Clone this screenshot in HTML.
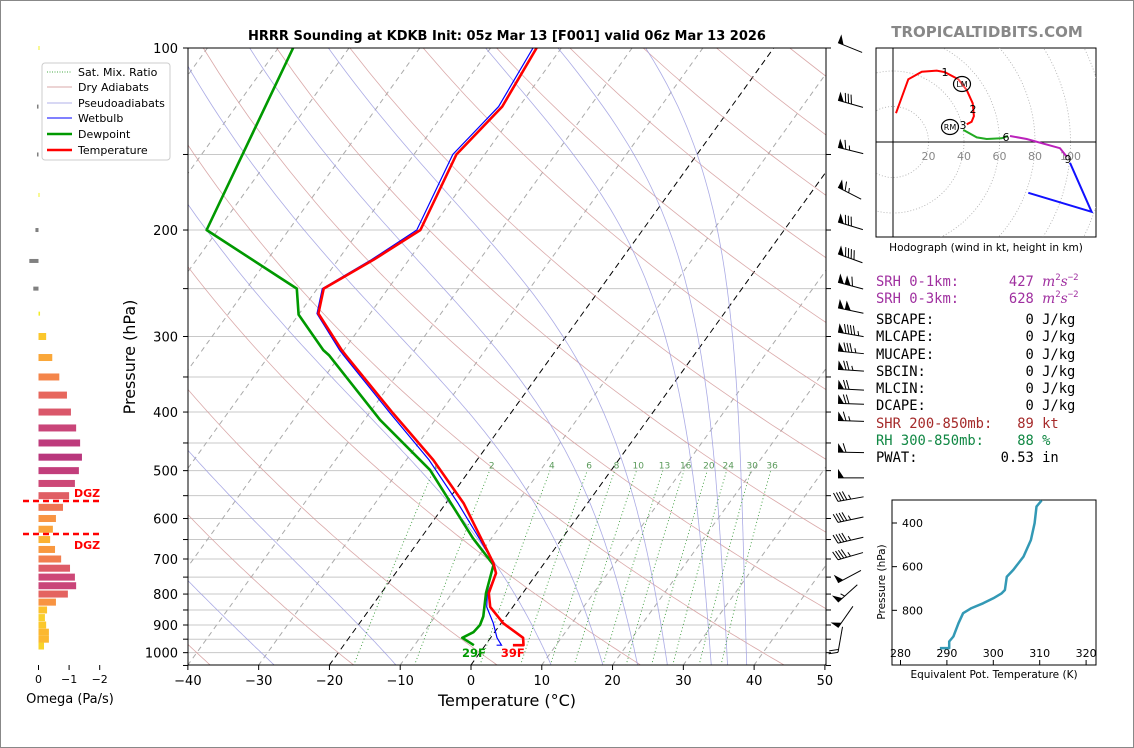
<!DOCTYPE html>
<html><head><meta charset="utf-8"><style>
html,body{margin:0;padding:0;background:#fff;}
svg{display:block;font-family:"DejaVu Sans","Liberation Sans",sans-serif;}
.mono{font-family:"DejaVu Sans Mono","Liberation Mono",monospace;}
</style></head><body>
<svg id="chart" xmlns="http://www.w3.org/2000/svg" width="1134" height="748" viewBox="0 0 1134 748">
<rect x="0.5" y="0.5" width="1133" height="747" fill="#fff" stroke="#888"/>
<defs><clipPath id="mainclip"><rect x="188" y="48" width="638" height="617"/></clipPath>
<clipPath id="hodoclip"><rect x="876" y="48" width="220" height="189"/></clipPath></defs>
<g id="bg" clip-path="url(#mainclip)"></g>
<g id="prof" clip-path="url(#mainclip)"></g>
<g id="axes"></g>
<g id="barbs"></g>
<g id="omega"></g>
<g id="hodo"></g>
<g id="thetae"></g>

<text x="507" y="40" text-anchor="middle" font-size="13" font-weight="bold">HRRR Sounding at KDKB Init: 05z Mar 13 [F001] valid 06z Mar 13 2026</text>
<text x="987" y="37" text-anchor="middle" font-size="15" font-weight="bold" fill="#888">TROPICALTIDBITS.COM</text>
<text x="507" y="706" text-anchor="middle" font-size="16">Temperature (°C)</text>
<text transform="translate(135,357) rotate(-90)" text-anchor="middle" font-size="16">Pressure (hPa)</text>
<text x="70" y="703" text-anchor="middle" font-size="13">Omega (Pa/s)</text>
<text x="986" y="251" text-anchor="middle" font-size="10.5">Hodograph (wind in kt, height in km)</text>

<g class="mono" font-size="13.8">
<text x="876" y="286" fill="#a030a0" xml:space="preserve">SRH 0-1km:      427 <tspan font-style="italic" font-family="DejaVu Serif, serif">m</tspan><tspan font-size="9" dy="-6">2</tspan><tspan font-style="italic" dy="6" font-family="DejaVu Serif, serif">s</tspan><tspan font-size="9" dy="-6">−2</tspan></text>
<text x="876" y="303" fill="#a030a0" xml:space="preserve">SRH 0-3km:      628 <tspan font-style="italic" font-family="DejaVu Serif, serif">m</tspan><tspan font-size="9" dy="-6">2</tspan><tspan font-style="italic" dy="6" font-family="DejaVu Serif, serif">s</tspan><tspan font-size="9" dy="-6">−2</tspan></text>
<text x="876" y="324" xml:space="preserve">SBCAPE:           0 J/kg</text>
<text x="876" y="341" xml:space="preserve">MLCAPE:           0 J/kg</text>
<text x="876" y="359" xml:space="preserve">MUCAPE:           0 J/kg</text>
<text x="876" y="376" xml:space="preserve">SBCIN:            0 J/kg</text>
<text x="876" y="393" xml:space="preserve">MLCIN:            0 J/kg</text>
<text x="876" y="410" xml:space="preserve">DCAPE:            0 J/kg</text>
<text x="876" y="428" fill="#a52a2a" xml:space="preserve">SHR 200-850mb:   89 kt</text>
<text x="876" y="445" fill="#118844" xml:space="preserve">RH 300-850mb:    88 %</text>
<text x="876" y="462" xml:space="preserve">PWAT:          0.53 in</text>
</g>

<g>
<rect x="42" y="63" width="128" height="97" rx="3" fill="#fff" stroke="#ccc"/>
<line x1="47" y1="72" x2="72" y2="72" stroke="#4a4" stroke-dasharray="1,1.5"/>
<text x="78" y="76" font-size="11">Sat. Mix. Ratio</text>
<line x1="47" y1="87" x2="72" y2="87" stroke="#d8a8a8"/>
<text x="78" y="91" font-size="11">Dry Adiabats</text>
<line x1="47" y1="103" x2="72" y2="103" stroke="#b0b0e8"/>
<text x="78" y="107" font-size="11">Pseudoadiabats</text>
<line x1="47" y1="118" x2="72" y2="118" stroke="#00f"/>
<text x="78" y="122" font-size="11">Wetbulb</text>
<line x1="47" y1="134" x2="72" y2="134" stroke="#090" stroke-width="2.5"/>
<text x="78" y="138" font-size="11">Dewpoint</text>
<line x1="47" y1="150" x2="72" y2="150" stroke="#f00" stroke-width="2.5"/>
<text x="78" y="154" font-size="11">Temperature</text>
</g>
</svg>
<script>
// ---- data ----
var tempP = [100,125,150,200,224,250,275,316,324,402,480,566,711,739,797,840,894,945,972,972];
var tempT = [-53.5,-52.4,-54.0,-51.4,-55.0,-59.1,-57.3,-50.3,-48.9,-36.6,-26.2,-17.5,-7.2,-5.8,-4.8,-3.2,0.3,4.6,5.4,3.9];
var dewP = [100,200,250,276,316,322,412,499,647,716,797,871,900,925,945,972];
var dewT = [-87.9,-81.6,-62.9,-60.0,-52.9,-51.6,-37.8,-25.6,-12.6,-7.0,-5.2,-3.2,-2.8,-3.0,-4.0,-1.6];
var wbP = [100,125,150,200,224,250,275,316,324,402,480,566,650,711,739,797,840,894,945,972,972];
var wbT = [-54.0,-52.9,-54.5,-51.9,-55.3,-59.3,-57.5,-50.6,-49.2,-37.0,-26.8,-18.3,-11.5,-7.2,-5.8,-5.0,-3.7,-1.1,0.9,2.3,1.6];
var barbP = [98,122,146,170,194,219,244,269,295,317,340,366,387,413,466,514,562,609,659,702,766,825,909,999];
var barbSpd = [50,80,65,65,80,90,110,100,95,85,75,70,70,65,60,50,45,45,45,45,50,55,50,20];
var barbDir = [292,286,284,297,287,290,285,282,280,276,274,273,272,272,271,270,260,258,257,254,242,228,215,190];
var omegaP = [100,125,150,175,200,225,250,275,300,325,350,375,400,425,450,475,500,525,550,575,600,625,650,675,700,725,750,775,800,825,850,875,900,925,950,975];
var omegaV = [-0.02,0.05,0.05,-0.03,0.1,0.3,0.17,-0.05,-0.25,-0.45,-0.68,-0.93,-1.06,-1.23,-1.36,-1.42,-1.32,-1.19,-1.0,-0.8,-0.57,-0.47,-0.38,-0.54,-0.74,-1.03,-1.19,-1.23,-0.96,-0.57,-0.28,-0.21,-0.25,-0.34,-0.34,-0.18];
var hodoRedU = [1.7,8.6,16.2,24.6,29.3,36.8,41.5,44.9,45.6,44.3,41.5];
var hodoRedV = [16.2,35.3,39.6,40.2,39.3,35.3,29.3,21.8,14.6,11.4,10.0];
var hodoGreenU = [39.6,47.2,52.8,61.2,64.8];
var hodoGreenV = [6.8,2.6,1.7,2.1,3.4];
var hodoMagU = [65.9,75.3,94.1,97.9];
var hodoMagV = [3.4,1.7,-3.5,-8.3];
var hodoBlueU = [99.7,111.9,76.2];
var hodoBlueV = [-11.7,-39.3,-28.6];
var thetaeP = [297,325,401,478,554,615,646,707,722,745,768,790,813,859,920,943,973,973];
var thetaeV = [310.4,309.3,308.9,308.1,306.5,304.3,302.9,302.5,301.8,300.0,297.8,295.3,293.5,292.5,291.4,290.5,290.5,288.5];
var xTicks = [-40,-30,-20,-10,0,10,20,30,40,50];
var yTickLabels = [100,200,300,400,500,600,700,800,900,1000];
var mixRatios = [1,2,4,6,8,10,13,16,20,24,30,36];
var moistStart = [-105,-90,-75,-60,-45,-27.7,-10.5,11.4,18.7,23.6,27.8,34,36.3,39];

// ---- helpers ----
var NS = "http://www.w3.org/2000/svg";
function mk(parent, tag, attrs){var e=document.createElementNS(NS,tag);for(var k in attrs)e.setAttribute(k,attrs[k]);parent.appendChild(e);return e;}
function Y(p){return 48+262.6*Math.log(p/100);}
function X(T,p){return 471+7.078*T+0.72*(665-Y(p));}
function pts(P,T){var s=[];for(var i=0;i<P.length;i++)s.push(X(T[i],P[i]).toFixed(1)+","+Y(P[i]).toFixed(1));return s.join(" ");}
var bg=document.getElementById('bg'), prof=document.getElementById('prof'), ax=document.getElementById('axes');

for(var p=100;p<=1050;p+=50){
  var gl=mk(bg,'line',{x1:188,x2:826,y1:Y(p),y2:Y(p),stroke:'#c8c8c8','stroke-width':1});
  
  
}
for(var t=-130;t<=50;t+=10){
  var blk=(t==0||t==-20);
  var il=mk(bg,'line',{x1:X(t,1050),y1:Y(1050),x2:X(t,100),y2:Y(100),stroke:blk?'#000':'#aaa','stroke-width':1,'stroke-dasharray':blk?'6,4':'5,4'});
  
  
}
for(var th=-40;th<=220;th+=20){
  var s=[];for(var pp=1050;pp>=100;pp-=10){var T=(th+273.15)*Math.pow(pp/1000,0.2857)-273.15;s.push(X(T,pp).toFixed(1)+","+Y(pp).toFixed(1));}
  var dl=mk(bg,'polyline',{points:s.join(" "),fill:'none',stroke:'#d49a9a','stroke-width':0.8,'stroke-opacity':0.85});
  
  
}
function esat(Tc){return 6.112*Math.exp(17.67*Tc/(Tc+243.5));}
moistStart.forEach(function(t0){
  var T=t0+273.15,pp=1050,s=[];
  while(pp>=100){
    s.push(X(T-273.15,pp).toFixed(1)+","+Y(pp).toFixed(1));
    var e=esat(T-273.15),rs=0.622*e/(pp-e);
    var dTdp=(287*T+2.501e6*rs)/(pp*(1005+2.501e6*2.501e6*rs*0.622/(287*T*T)));
    T-=dTdp*5;pp-=5;
  }
  var ml=mk(bg,'polyline',{points:s.join(" "),fill:'none',stroke:'#9c9ce0','stroke-width':0.8,'stroke-opacity':0.85});
  
  
});
mixRatios.forEach(function(w){
  var s=[];
  for(var pp=1050;pp>=500;pp-=10){var e=w*pp/(622+w),l=Math.log(e/6.112),Td=243.5*l/(17.67-l);s.push(X(Td,pp).toFixed(1)+","+Y(pp).toFixed(1));}
  var wl=mk(bg,'polyline',{points:s.join(" "),fill:'none',stroke:'#3a9a3a','stroke-width':0.9,'stroke-dasharray':'1,2.5'});
  
  
  var e2=w*490/(622+w),l2=Math.log(e2/6.112),Td2=243.5*l2/(17.67-l2);
  var wt=mk(bg,'text',{x:X(Td2,490),y:Y(490)+3,'font-size':9,fill:'#5a9a5a','text-anchor':'middle'});
  wt.textContent=w;
  
  
});
var wb=mk(prof,'polyline',{points:pts(wbP,wbT),fill:'none',stroke:'#00f','stroke-width':1.2});


var dw=mk(prof,'polyline',{points:pts(dewP,dewT),fill:'none',stroke:'#090','stroke-width':2.6,'stroke-linejoin':'round'});


var tp=mk(prof,'polyline',{points:pts(tempP,tempT),fill:'none',stroke:'#f00','stroke-width':2.6,'stroke-linejoin':'round'});


var sd=mk(ax,'text',{x:X(dewT[dewT.length-1],972),y:657,'font-size':11.5,'font-weight':'bold',fill:'#090','text-anchor':'middle'});
sd.textContent='29F';


var st=mk(ax,'text',{x:X(tempT[tempT.length-1],972),y:657,'font-size':11.5,'font-weight':'bold',fill:'#f00','text-anchor':'middle'});
st.textContent='39F';



var fr=mk(ax,'rect',{x:188,y:48,width:638,height:617,fill:'none',stroke:'#000','stroke-width':1});


xTicks.forEach(function(t){
  var x=471+7.078*t;
  var tk=mk(ax,'line',{x1:x,x2:x,y1:665,y2:670,stroke:'#000'});
  
  
  var tl=mk(ax,'text',{x:x,y:685,'font-size':13,'text-anchor':'middle'});
  tl.textContent=(t<0?'−'+(-t):t);
  
  
});
for(var p2=100;p2<=1050;p2+=50){
  var l1=mk(ax,'line',{x1:183,x2:188,y1:Y(p2),y2:Y(p2),stroke:'#000'});
  
  
  var l2=mk(ax,'line',{x1:826,x2:831,y1:Y(p2),y2:Y(p2),stroke:'#000'});
  
  
}
yTickLabels.forEach(function(p){
  var yl=mk(ax,'text',{x:178,y:Y(p)+5,'font-size':13,'text-anchor':'end'});
  yl.textContent=p;
  
  
});

var bgp=document.getElementById('barbs');
for(var i=0;i<barbP.length;i++){
  var d=barbDir[i]*Math.PI/180,vx=Math.sin(d),vy=-Math.cos(d);
  var fx=838,fy=Y(barbP[i]),L=26;
  var tx=fx-L*vx,ty=fy-L*vy;
  var nx=-vy,ny=vx; if(ny>0){nx=-nx;ny=-ny;}
  var g=mk(bgp,'g',{});
  
  
  mk(g,'line',{x1:fx,y1:fy,x2:tx,y2:ty,stroke:'#000','stroke-width':1});
  var spd=Math.round(barbSpd[i]/5)*5,pos=0;
  while(spd>=50){
    var bx=fx+(-vx)*pos,by=fy+(-vy)*pos,cx=fx+(-vx)*(pos+6),cy=fy+(-vy)*(pos+6);
    mk(g,'polygon',{points:bx+','+by+' '+(bx+nx*9)+','+(by+ny*9)+' '+cx+','+cy,fill:'#000'});
    pos+=7;spd-=50;
  }
  if(pos>0)pos+=1;
  while(spd>=10){
    var bx2=fx+(-vx)*pos,by2=fy+(-vy)*pos;
    mk(g,'line',{x1:bx2,y1:by2,x2:bx2+nx*9+vx*3,y2:by2+ny*9+vy*3,stroke:'#000','stroke-width':1});
    pos+=3;spd-=10;
  }
  if(spd>=5){
    var bx3=fx+(-vx)*(pos+1),by3=fy+(-vy)*(pos+1);
    mk(g,'line',{x1:bx3,y1:by3,x2:bx3+nx*4.5+vx*1.5,y2:by3+ny*4.5+vy*1.5,stroke:'#000','stroke-width':1});
  }
}

var om=document.getElementById('omega');
function omColor(v){
  if(v>0)return '#808080';
  var stops=[[0,[240,245,40]],[0.3,[253,190,45]],[0.6,[247,143,68]],[0.9,[234,106,90]],[1.2,[204,71,120]],[1.5,[178,49,127]]];
  var a=-v;
  for(var k=1;k<stops.length;k++){
    if(a<=stops[k][0]||k==stops.length-1){
      var s0=stops[k-1],s1=stops[k],f=Math.min(1,(a-s0[0])/(s1[0]-s0[0]));
      return 'rgb('+[0,1,2].map(function(j){return Math.round(s0[1][j]+(s1[1][j]-s0[1][j])*f);}).join(',')+')';
    }
  }
}
var OX0=38.5,OXS=30.6;
for(var i2=0;i2<omegaP.length;i2++){
  var v=omegaV[i2],h=omegaP[i2]>=300?7:4,x0=OX0,x1=OX0-v*OXS;
  var r=mk(om,'rect',{x:Math.min(x0,x1),y:Y(omegaP[i2])-h/2,width:Math.max(1,Math.abs(x1-x0)),height:h,fill:omColor(v)});
  
  
}
[0,-1,-2].forEach(function(v){
  var x=OX0-v*OXS;
  var t1=mk(om,'line',{x1:x,x2:x,y1:665,y2:670,stroke:'#000'});
  
  
  var t2=mk(om,'text',{x:x,y:683,'font-size':11,'text-anchor':'middle'});
  t2.textContent=(v<0?'−'+(-v):v);
  
  
});
[501,534].forEach(function(y,k){
  var dl=mk(om,'line',{x1:23,x2:99,y1:y,y2:y,stroke:'#f00','stroke-width':2.5,'stroke-dasharray':'6,4'});
  
  
  var dt=mk(om,'text',{x:74,y:k==0?497:549,'font-size':11,'font-weight':'bold',fill:'#f00'});
  dt.textContent='DGZ';
  
  
});

var ho=document.getElementById('hodo');
var HX=893,HY=142,HS=1.775;
var hbox=mk(ho,'rect',{x:876,y:48,width:220,height:189,fill:'#fff',stroke:'#000','stroke-width':1});


var hc=mk(ho,'g',{'clip-path':'url(#hodoclip)'});
for(var rr=20;rr<=140;rr+=20){
  var c=mk(hc,'circle',{cx:HX,cy:HY,r:rr*HS,fill:'none',stroke:'#aaa','stroke-width':0.8,'stroke-dasharray':'1,2'});
  
  
}
mk(hc,'line',{x1:HX,x2:HX,y1:48,y2:237,stroke:'#000','stroke-width':1});
mk(hc,'line',{x1:876,x2:1096,y1:HY,y2:HY,stroke:'#000','stroke-width':1});
[20,40,60,80,100].forEach(function(k){
  var t=mk(hc,'text',{x:HX+k*HS,y:HY+18,'font-size':11,fill:'#888','text-anchor':'middle'});
  t.textContent=k;
  
  
});
function hpts(U,V){return U.map(function(u,i){return (HX+u*HS).toFixed(1)+','+(HY-V[i]*HS).toFixed(1);}).join(' ');}
[[hodoRedU,hodoRedV,'#f00','hodo-0-3km'],[hodoGreenU,hodoGreenV,'#2a2','hodo-3-6km'],[hodoMagU,hodoMagV,'#b2b','hodo-6-9km'],[hodoBlueU,hodoBlueV,'#11f','hodo-9-12km']].forEach(function(s){
  var pl=mk(hc,'polyline',{points:hpts(s[0],s[1]),fill:'none',stroke:s[2],'stroke-width':2});
  
  
});
[['1',945,76],['2',973,113],['3',963,129],['6',1006,141],['9',1068,163]].forEach(function(l){
  var t=mk(hc,'text',{x:l[1],y:l[2],'font-size':11,'text-anchor':'middle'});
  t.textContent=l[0];
  
  
});
[['LM',962,84],['RM',950,127]].forEach(function(l){
  var c=mk(hc,'ellipse',{cx:l[1],cy:l[2],rx:8.5,ry:7.5,fill:'#fff','fill-opacity':0.3,stroke:'#000','stroke-width':1.2});
  
  
  var t=mk(hc,'text',{x:l[1],y:l[2]+3,'font-size':8,'text-anchor':'middle'});
  t.textContent=l[0];
  
  
});

var te=document.getElementById('thetae');
function TX(v){return 900.5+(v-280)*4.64;}
function TY(p){return 523+(p-400)*0.2183;}
var tb=mk(te,'rect',{x:892,y:500,width:204,height:165,fill:'#fff',stroke:'#000','stroke-width':1});


[280,290,300,310,320].forEach(function(v){
  mk(te,'line',{x1:TX(v),x2:TX(v),y1:665,y2:660,stroke:'#000'});
  var t=mk(te,'text',{x:TX(v),y:657,'font-size':11,'text-anchor':'middle'});
  t.textContent=v;
  
  
});
[400,600,800].forEach(function(p){
  mk(te,'line',{x1:892,x2:897,y1:TY(p),y2:TY(p),stroke:'#000'});
  var t=mk(te,'text',{x:902,y:TY(p)+4,'font-size':11});
  t.textContent=p;
  
  
});
var tl2=mk(te,'polyline',{points:thetaeV.map(function(v,i){return TX(v).toFixed(1)+','+TY(thetaeP[i]).toFixed(1);}).join(' '),fill:'none',stroke:'#3399b5','stroke-width':2.5,'stroke-linejoin':'round'});


var tx1=mk(te,'text',{x:994,y:678,'font-size':10.5,'text-anchor':'middle'});
tx1.textContent='Equivalent Pot. Temperature (K)';


var ty1=mk(te,'text',{transform:'translate(885,582) rotate(-90)','font-size':10.5,'text-anchor':'middle'});
ty1.textContent='Pressure (hPa)';


</script>
</body></html>
